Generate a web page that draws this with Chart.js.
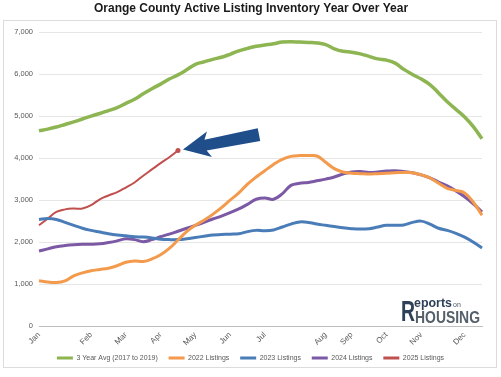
<!DOCTYPE html>
<html>
<head>
<meta charset="utf-8">
<script src="https://cdn.jsdelivr.net/npm/chart.js@4.4.1/dist/chart.umd.min.js"></script>
<style>
html,body{margin:0;padding:0;background:#fff;}
#wrap{width:501px;height:377px;position:relative;}
</style>
</head>
<body>
<div id="wrap"><canvas id="c" width="501" height="377"></canvas></div>
<script>
// ---- data ----
const monthNames = ['Jan','Feb','Mar','Apr','May','Jun','Jul','Aug','Sep','Oct','Nov','Dec'];
const monthWeekIndex = [0,6,10,14,18,22,26,33,36,40,44,49];
const weekCount = 52;

const avg2017to2019 = [4650,4690,4740,4800,4860,4930,5000,5060,5130,5200,5300,5400,5530,5650,5760,5880,5980,6100,6230,6290,6350,6400,6470,6550,6610,6660,6690,6720,6760,6770,6760,6750,6740,6700,6600,6540,6520,6480,6420,6360,6330,6260,6110,5990,5880,5750,5550,5340,5160,4980,4750,4460];
const listings2022 = [1080,1050,1040,1080,1200,1270,1320,1350,1380,1440,1520,1550,1540,1600,1700,1850,2050,2250,2400,2520,2660,2820,3000,3170,3380,3550,3700,3850,3970,4040,4060,4060,4050,3900,3750,3670,3640,3630,3620,3630,3640,3650,3660,3650,3600,3530,3400,3280,3230,3170,2950,2640];
const listings2023 = [2540,2560,2540,2470,2400,2330,2280,2240,2200,2170,2150,2130,2120,2100,2070,2060,2060,2080,2110,2140,2170,2180,2190,2200,2250,2280,2270,2290,2360,2430,2480,2470,2430,2400,2370,2340,2320,2310,2320,2360,2400,2400,2410,2470,2500,2430,2330,2280,2210,2120,2000,1860];
const listings2024 = [1790,1840,1890,1920,1940,1950,1950,1960,1990,2030,2080,2060,2010,2060,2130,2190,2260,2330,2400,2470,2550,2620,2700,2790,2900,3020,3050,3020,3150,3350,3400,3420,3460,3500,3550,3620,3670,3680,3660,3670,3690,3700,3680,3650,3600,3530,3430,3340,3220,3080,2910,2720];
const listings2025 = [2400,2560,2720,2780,2800,2800,2880,3020,3110,3190,3300,3420,3580,3730,3880,4020,4180];
const yTicks = [0,1000,2000,3000,4000,5000,6000,7000];
const titleText = 'Orange County Active Listing Inventory Year Over Year';

// ---- build labels ----
const labels = [];
for (let i = 0; i < weekCount; i++) labels.push('');
monthWeekIndex.forEach((w, k) => { labels[w] = monthNames[k]; });

const FONT = "'Liberation Sans', Arial, sans-serif";
const GAP = '\u00A0\u00A0\u00A0';

const framePlugin = {
  id: 'frame',
  beforeDraw(chart) {
    const ctx = chart.ctx;
    ctx.save();
    ctx.fillStyle = '#ffffff';
    ctx.fillRect(0, 0, chart.width, chart.height);
    ctx.strokeStyle = '#dcdcdc';
    ctx.lineWidth = 1;
    ctx.strokeRect(3.5, 20.5, 493, 347);
    ctx.fillStyle = '#1a1a1a';
    ctx.font = "bold 12px " + FONT;
    ctx.textAlign = 'center';
    ctx.textBaseline = 'middle';
    ctx.fillText(titleText, 251, 9);
    ctx.restore();
  }
};

const arrowPlugin = {
  id: 'arrow',
  afterDatasetsDraw(chart) {
    const meta = chart.getDatasetMeta(4);
    const pts = meta.data;
    if (!pts.length) return;
    const p = pts[pts.length - 1];
    const tipX = p.x + 5, tipY = p.y - 1;
    const tailX = tipX + 76, tailY = tipY - 15;
    const ang = Math.atan2(tailY - tipY, tailX - tipX);
    const ctx = chart.ctx;
    ctx.save();
    ctx.translate(tipX, tipY);
    ctx.rotate(ang);
    const len = Math.hypot(tailX - tipX, tailY - tipY);
    const headL = 27, headW = 13, shaftW = 5.5;
    ctx.beginPath();
    ctx.moveTo(0, 0);
    ctx.lineTo(headL, -headW);
    ctx.lineTo(headL - 4, -shaftW);
    ctx.lineTo(len, -shaftW - 1);
    ctx.lineTo(len, shaftW + 1);
    ctx.lineTo(headL - 4, shaftW);
    ctx.lineTo(headL, headW);
    ctx.closePath();
    ctx.fillStyle = '#1f4e8a';
    ctx.fill();
    ctx.restore();
  }
};

const logoPlugin = {
  id: 'logo',
  afterDraw(chart) {
    const ctx = chart.ctx;
    ctx.save();
    ctx.textBaseline = 'alphabetic';
    ctx.fillStyle = '#2f4159';
    ctx.font = "bold 30px " + FONT;
    ctx.fillText('R', 401, 321, 14);
    ctx.font = "bold 13px " + FONT;
    ctx.fillText('eports', 414, 307, 38);
    ctx.font = "7px " + FONT;
    ctx.fillStyle = '#4a5868';
    ctx.fillText('on', 453, 307);
    ctx.font = "bold 16px " + FONT;
    ctx.fillStyle = '#555f6a';
    ctx.fillText('HOUSING', 415, 323, 65);
    ctx.restore();
  }
};

const mk = (label, data, color, width) => ({
  label, data,
  borderColor: color,
  backgroundColor: color,
  borderWidth: width,
  pointRadius: 0,
  tension: 0.4,
  fill: false
});

const ds2025 = mk('2025 Listings', listings2025, '#c0504d', 2);
ds2025.pointRadius = listings2025.map((v, i) => i === listings2025.length - 1 ? 2.5 : 0);
ds2025.pointBackgroundColor = '#c0504d';
ds2025.pointBorderWidth = 0;

new Chart(document.getElementById('c'), {
  type: 'line',
  data: {
    labels,
    datasets: [
      mk('3 Year Avg (2017 to 2019)', avg2017to2019, '#8db552', 3.5),
      mk('2022 Listings', listings2022, '#f39a4c', 3),
      mk('2023 Listings', listings2023, '#4a7db8', 3),
      mk('2024 Listings', listings2024, '#7b59a5', 3),
      ds2025
    ]
  },
  options: {
    responsive: false,
    animation: false,
    devicePixelRatio: 1,
    layout: { padding: { left: 14, right: 14, top: 32, bottom: 5.5 } },
    plugins: {
      title: { display: false },
      legend: {
        position: 'bottom',
        labels: {
          color: '#595959',
          font: { family: FONT, size: 7 },
          boxWidth: 16,
          boxHeight: 3,
          padding: 5,
          generateLabels(chart) {
            const items = Chart.defaults.plugins.legend.labels.generateLabels(chart);
            items.forEach((it, i) => {
              if (i < items.length - 1) it.text = it.text + GAP;
              it.lineWidth = 0;
            });
            return items;
          }
        }
      },
      tooltip: { enabled: false }
    },
    scales: {
      x: {
        grid: { display: false, drawTicks: false },
        border: { display: true, color: '#bfbfbf', width: 1 },
        ticks: {
          autoSkip: false,
          maxRotation: 45,
          minRotation: 45,
          color: '#595959',
          padding: 4,
          font: { family: FONT, size: 8 }
        },
        afterFit(s) { s.height = 23.3; }
      },
      y: {
        min: 0, max: 7000,
        afterBuildTicks(s) { s.ticks = yTicks.map(v => ({ value: v })); },
        grid: { color: '#e6e6e6', drawTicks: false },
        border: { display: false },
        ticks: {
          color: '#595959',
          padding: 6,
          font: { family: FONT, size: 7.5 },
          callback: v => v.toLocaleString('en-US')
        },
        afterFit(s) { s.width = 25; }
      },
      yPad: {
        type: 'linear',
        position: 'right',
        display: true,
        grid: { display: false, drawTicks: false },
        border: { display: false },
        ticks: { display: false },
        afterFit(s) { s.width = 5; }
      }
    }
  },
  plugins: [framePlugin, arrowPlugin, logoPlugin]
});
</script>
</body>
</html>
